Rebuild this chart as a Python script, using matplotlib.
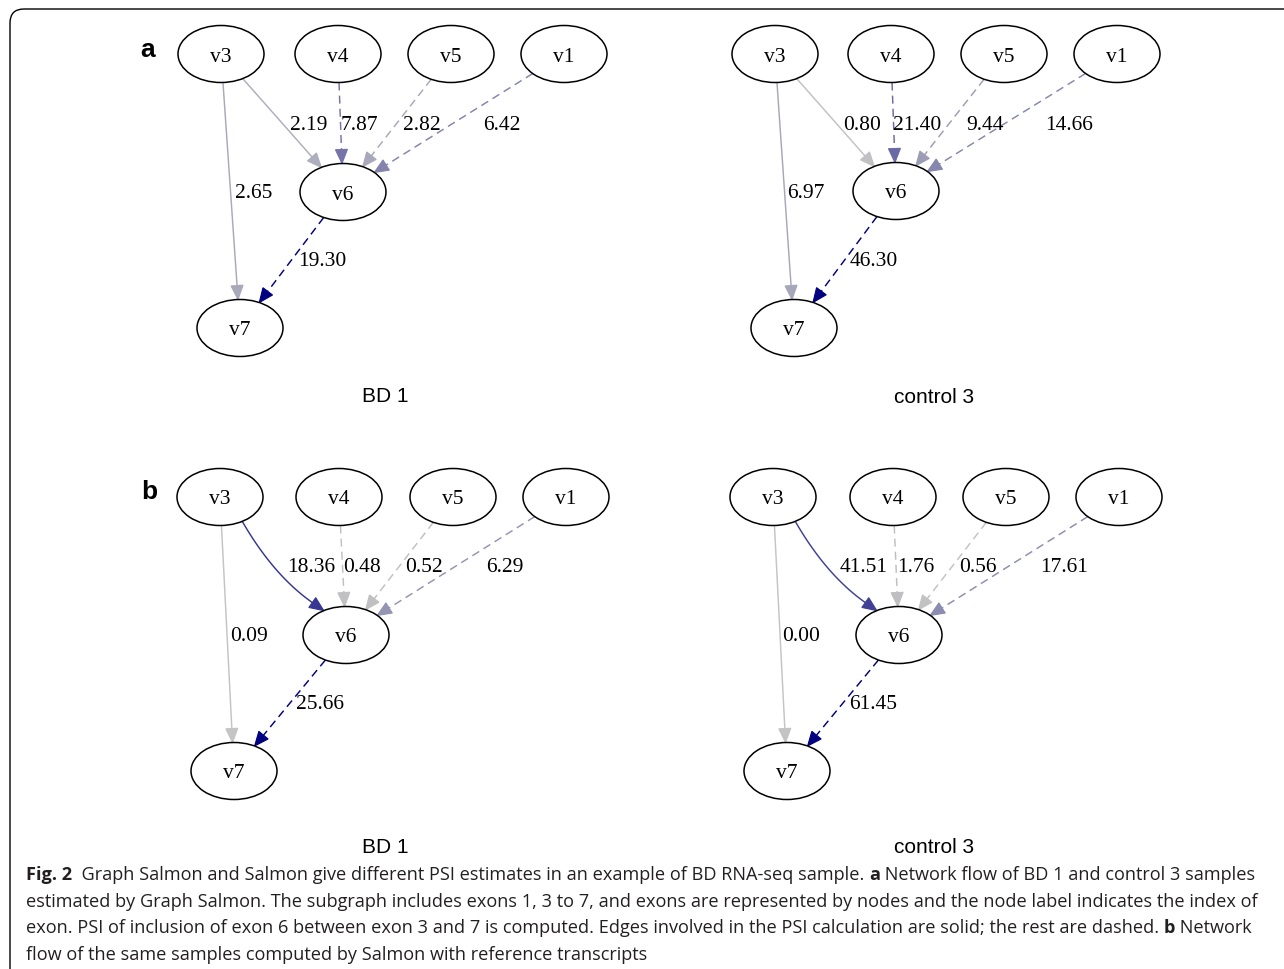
import numpy as np
import matplotlib
matplotlib.use("Agg")
import matplotlib.pyplot as plt
from matplotlib.patches import Ellipse, Polygon, FancyBboxPatch
from matplotlib.colors import LinearSegmentedColormap, Normalize

#
#  Data
#
edges = [("v3", "v6"), ("v4", "v6"), ("v5", "v6"), ("v1", "v6"), ("v3", "v7"), ("v6", "v7")]
solid_edges = [("v3", "v6"), ("v3", "v7")]

a_bd1 = [2.19, 7.87, 2.82, 6.42, 2.65, 19.30]
a_ctrl = [0.80, 21.40, 9.44, 14.66, 6.97, 46.30]
b_bd1 = [18.36, 0.48, 0.52, 6.29, 0.09, 25.66]
b_ctrl = [41.51, 1.76, 0.56, 17.61, 0.00, 61.45]

sample_names = ["BD 1", "control 3", "BD 1", "control 3"]
panel_letters = ["a", "b"]

caption = [
    [("Fig. 2", True), ("  Graph Salmon and Salmon give different PSI estimates in an example of BD RNA-seq sample. ", False),
     ("a", True), (" Network flow of BD 1 and control 3 samples", False)],
    [("estimated by Graph Salmon. The subgraph includes exons 1, 3 to 7, and exons are represented by nodes and the node label indicates the index of", False)],
    [("exon. PSI of inclusion of exon 6 between exon 3 and 7 is computed. Edges involved in the PSI calculation are solid; the rest are dashed. ", False),
     ("b", True), (" Network", False)],
    [("flow of the same samples computed by Salmon with reference transcripts", False)],
]

#
#  Layout (pixel coordinates)
#
panels = [
    dict(weights=a_bd1, curve=0.0,
         nodes={"v3": (221, 55), "v4": (338, 55), "v5": (451, 55), "v1": (564, 55), "v6": (343, 193), "v7": (240, 329)},
         labels=[(290, 123), (341, 123), (403, 123), (483, 123), (235, 191), (298, 260)],
         title=(385, 395)),
    dict(weights=a_ctrl, curve=0.0,
         nodes={"v3": (775, 55), "v4": (891, 55), "v5": (1004, 55), "v1": (1117, 55), "v6": (896, 192), "v7": (794, 329)},
         labels=[(843, 123), (893, 123), (966, 123), (1045, 123), (787, 191), (850, 260)],
         title=(934, 396)),
    dict(weights=b_bd1, curve=0.11,
         nodes={"v3": (220, 498), "v4": (339, 498), "v5": (453, 498), "v1": (566, 498), "v6": (346, 636), "v7": (234, 772)},
         labels=[(287, 566), (343, 566), (405, 566), (486, 566), (230, 635), (296, 703)],
         title=(385, 846)),
    dict(weights=b_ctrl, curve=0.11,
         nodes={"v3": (773, 498), "v4": (893, 498), "v5": (1006, 498), "v1": (1119, 498), "v6": (899, 636), "v7": (787, 772)},
         labels=[(840, 566), (897, 566), (959, 566), (1040, 566), (782, 635), (849, 703)],
         title=(934, 846)),
]
letter_pos = [(148, 50), (149, 492)]

RX, RY = 43, 28.5
HEAD_L, HEAD_W = 14, 6
TXT_DY = 2
cmap = LinearSegmentedColormap.from_list("flow", ["#c4c4c4", "#000080"])
serif = "Liberation Serif"


def boundary(center, toward):
    c = np.array(center, float)
    d = np.array(toward, float) - c
    t = 1.0 / np.sqrt((d[0] / RX) ** 2 + (d[1] / RY) ** 2)
    return c + t * d


def draw_edge(ax, p0, p1, color, dashed, curve):
    start = boundary(p0, p1)
    tip = boundary(p1, p0)
    mid = (start + tip) / 2
    d = tip - start
    ctrl = mid + curve * np.array([-d[1], d[0]])
    tdir = tip - ctrl
    tdir = tdir / np.linalg.norm(tdir)
    base = tip - HEAD_L * tdir
    s = np.linspace(0, 1, 40)[:, None]
    pts = (1 - s) ** 2 * start + 2 * (1 - s) * s * ctrl + s ** 2 * base
    ls = (0, (5.5, 3.5)) if dashed else "-"
    ax.plot(pts[:, 0], pts[:, 1], color=color, lw=1.05, linestyle=ls, solid_capstyle="butt")
    perp = np.array([-tdir[1], tdir[0]])
    head = [tip, base + HEAD_W * perp, base - HEAD_W * perp]
    ax.add_patch(Polygon(head, closed=True, facecolor=color, edgecolor=color, lw=0.8))


fig = plt.figure(figsize=(12.84, 9.70), dpi=100)
ax = fig.add_axes([0, 0, 1, 1])
ax.set_xlim(0, 1284)
ax.set_ylim(970, 0)
ax.axis("off")

# frame around the figure
ax.add_patch(FancyBboxPatch((10, 10), 1300, 975, boxstyle="round,pad=0,rounding_size=14",
                            facecolor="none", edgecolor="black", lw=1.0))

for panel, name in zip(panels, sample_names):
    nodes = panel["nodes"]
    w = panel["weights"]
    norm = Normalize(0, max(w))
    for (src, dst), val, (lx, ly) in zip(edges, w, panel["labels"]):
        curve = panel["curve"] if (src, dst) == ("v3", "v6") else 0.0
        draw_edge(ax, nodes[src], nodes[dst], cmap(norm(val)), (src, dst) not in solid_edges, curve)
        ax.text(lx, ly + TXT_DY, f"{val:.2f}", ha="left", va="center", fontsize=15.5, family=serif)
    for key, (x, y) in nodes.items():
        ax.add_patch(Ellipse((x, y), 2 * RX, 2 * RY, facecolor="white", edgecolor="black", lw=1.1, zorder=3))
        ax.text(x, y + TXT_DY, key, ha="center", va="center", fontsize=15.5, family=serif, zorder=4)
    tx, ty = panel["title"]
    ax.text(tx, ty + TXT_DY, name, ha="center", va="center", fontsize=15, family="Liberation Sans")

for letter, (x, y) in zip(panel_letters, letter_pos):
    ax.text(x, y, letter, ha="center", va="center", fontsize=19, fontweight="bold", family="Liberation Sans")

# caption, one line at a time, bold parts chained after the previous piece
cap_y = [880, 907, 933, 960]
for line, y in zip(caption, cap_y):
    prev = None
    for piece, bold in line:
        kw = dict(fontsize=13.1, family="Open Sans", fontweight="bold" if bold else "normal",
                  ha="left", va="baseline", color="#231f20")
        if prev is None:
            prev = ax.text(26, y, piece, **kw)
        else:
            prev = ax.annotate(piece, xy=(1, y), xycoords=(prev, "data"), **kw)

fig.savefig("out.png", dpi=100)
